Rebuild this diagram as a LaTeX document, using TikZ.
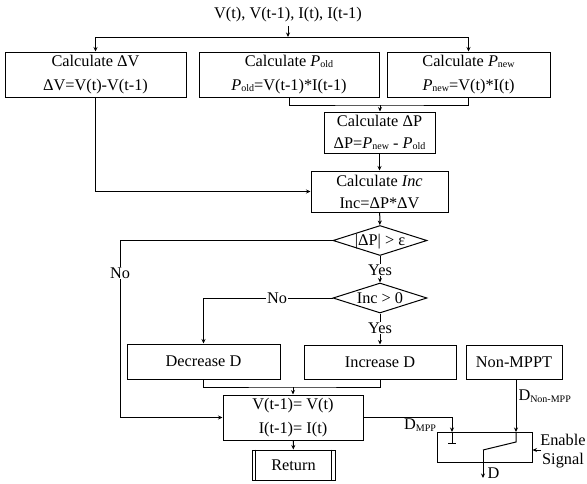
\documentclass[tikz,border=0pt]{standalone}
\usepackage{fontspec}
\setmainfont{Liberation Serif}
\usetikzlibrary{shapes.geometric,arrows.meta}
\newcommand{\sbt}[1]{\raisebox{-0.2ex}{\fontsize{10}{10}\selectfont #1}}
\begin{document}
\begin{tikzpicture}[x=1pt,y=-1pt, line width=1pt, font=\fontsize{16.3}{24}\selectfont,
  box/.style={draw, rectangle, inner sep=0pt, align=center},
  dia/.style={draw, diamond, inner sep=0pt, minimum width=94pt, minimum height=30pt, text height=10.5pt, text depth=0pt},
  arr/.style={-{Stealth[length=4.5pt,width=4pt]}},
  lbl/.style={fill=white, inner sep=1pt}]
\path[use as bounding box] (0,0) rectangle (587,483);
% top input
\node (in) at (288,15) {V(t), V(t-1), I(t), I(t-1)};
\node[box, minimum width=181pt, minimum height=45pt] (b1) at (95.5,74.5) {Calculate ΔV\\ΔV=V(t)-V(t-1)};
\node[box, minimum width=180pt, minimum height=45pt] (b2) at (289,74.5) {Calculate {\itshape P}\sbt{old}\\{\itshape P}\sbt{old}=V(t-1)*I(t-1)};
\node[box, minimum width=163pt, minimum height=45pt] (b3) at (468.5,74.5) {Calculate {\itshape P}\sbt{new}\\{\itshape P}\sbt{new}=V(t)*I(t)};
\coordinate (j0) at (288,37);
\draw[arr] (in) -- (j0);
\draw[arr] (j0) -| (b1.north);
\draw[arr] (j0) -| (b3.north);
% delta P
\node[box, minimum width=111pt, minimum height=41pt, font=\fontsize{16.3}{22}\selectfont] (dp) at (379.5,132.5) {Calculate ΔP\\ΔP={\itshape P}\sbt{new} - {\itshape P}\sbt{old}};
\coordinate (m1) at (380,105);
\draw (b2.south) |- (m1) -| (b3.south);
\draw[arr] (m1) -- (m1 |- dp.north);
% Inc
\node[box, minimum width=137pt, minimum height=41pt, font=\fontsize{16.3}{22}\selectfont] (inc) at (379.5,191.5) {Calculate {\itshape Inc}\\Inc=ΔP*ΔV};
\draw[arr] (dp) -- (inc);
\draw[arr] (b1.south) |- (inc.west);
% decisions
\node[dia] (d1) at (380,240.5) {\makebox[0pt]{|ΔP| > ε}};
\node[dia] (d2) at (380,298) {\makebox[0pt]{Inc > 0}};
\draw[arr] (inc) -- (d1);
\draw[arr] (d1) -- (d2);
\node[lbl] (y1) at (380,270) {Yes};
% boxes D
\node[box, minimum width=153pt, minimum height=35pt] (dec) at (203.5,361.5) {Decrease D};
\node[box, minimum width=152pt, minimum height=34pt] (incD) at (380,362) {Increase D};
\node[box, minimum width=96pt, minimum height=34pt] (nm) at (514,362) {Non-MPPT};
\draw[arr] (d2.west) -| (dec.north);
\node[lbl] (n2) at (277,298) {No};
\draw[arr] (d2.south) -- (incD.north);
\node[lbl] (y2) at (380,328) {Yes};
% update
\node[box, minimum width=140pt, minimum height=45pt] (upd) at (293,417.5) {V(t-1)= V(t)\\I(t-1)= I(t)};
\coordinate (m2) at (293,387);
\draw (dec.south) |- (m2) -| (incD.south);
\draw[arr] (m2) -- (upd.north);
\coordinate (c1) at (120,240.5);
\draw[arr] (d1.west) -- (c1) |- (upd.west);
\node[lbl] (n1) at (120,273) {No};
% return
\node[box, minimum width=83pt, minimum height=30pt] (ret) at (293.5,465) {Return};
\draw ([xshift=4pt]ret.north west) -- ([xshift=4pt]ret.south west);
\draw ([xshift=-4pt]ret.north east) -- ([xshift=-4pt]ret.south east);
\draw[arr] (upd) -- (ret);
% switch
\node[box, minimum width=95pt, minimum height=30pt] (sw) at (484.5,447) {};
\coordinate (tL) at (452,432);
\coordinate (tLb) at (452,443);
\coordinate (tR) at (516,432);
\coordinate (tRb) at (516,442);
\coordinate (arm) at (483,450);
\coordinate (out) at (483,478);
\draw[arr] (upd.east) -| (tL);
\draw (tL) -- (tLb);
\draw (448,443) -- (456,443);
\draw[arr] (tR |- nm.south) -- (tR);
\draw (tR) -- (tRb) -- (arm);
\draw[arr] (arm) -- (out);
\node[anchor=west, inner sep=0pt] (dl) at (487,473) {D};
\node (dmpp) at (420,425) {D\sbt{MPP}};
\node[anchor=west, inner sep=0pt] (dnm) at (518,396) {D\sbt{Non-MPP}};
\coordinate (en) at (541,450);
\draw[arr] (en) -- (sw.east |- en);
\node[align=center, font=\fontsize{16.3}{19}\selectfont] (ens) at (563,451) {Enable\\Signal};
\end{tikzpicture}
\end{document}
